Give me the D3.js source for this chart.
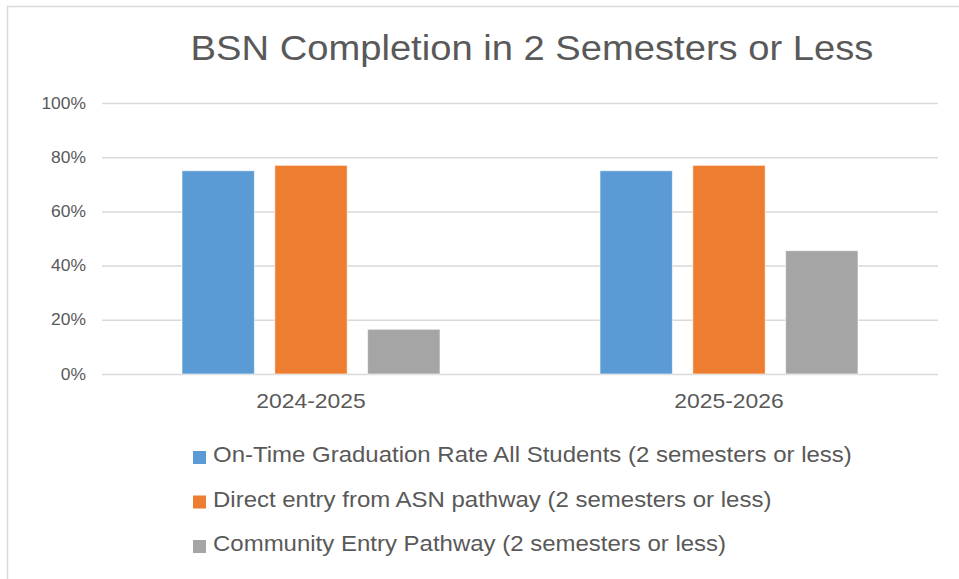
<!DOCTYPE html>
<html>
<head>
<meta charset="utf-8">
<script src="https://cdn.jsdelivr.net/npm/d3@7"></script>
<style>
  body { margin: 0; background: #fff; }
  svg { display: block; font-family: "Liberation Sans", Arial, Helvetica, sans-serif; }
</style>
</head>
<body>
<svg width="959" height="579"></svg>
<script>
// данные графика
const years = ["2024-2025", "2025-2026"];
const seriesNames = [
    "On-Time Graduation Rate All Students (2 semesters or less)",
    "Direct entry from ASN pathway (2 semesters or less)",
    "Community Entry Pathway (2 semesters or less)"
];
const onTime = [75, 75];
const directEntry = [77, 77];
const community = [16.5, 45.5];
const yTicks = [0, 20, 40, 60, 80, 100];
const colors = ["#5B9BD5", "#ED7D31", "#A5A5A5"];

const seriesValues = [onTime, directEntry, community];

// шрифт на картинке немного шире, растягиваем текст по горизонтали
const stretch = 1.09;
function widen(sel) {
    sel.each(function () {
        let len = this.getComputedTextLength();
        d3.select(this)
            .attr("textLength", len * stretch)
            .attr("lengthAdjust", "spacingAndGlyphs");
    });
}

let svg = d3.select("svg");

// рамка диаграммы
svg.append("rect")
    .attr("x", 7.5).attr("y", 6.5)
    .attr("width", 970).attr("height", 590)
    .attr("fill", "none")
    .attr("stroke", "#d9d9d9")
    .attr("stroke-width", 1.5);

const area = { left: 102, right: 938, top: 103, bottom: 374 };

let scaleX = d3.scaleBand()
    .domain(years)
    .range([area.left, area.right]);

let scaleInner = d3.scaleBand()
    .domain(d3.range(seriesNames.length))
    .range([80, scaleX.bandwidth() - 80])
    .paddingInner(0.22);

let scaleY = d3.scaleLinear()
    .domain([0, 100])
    .range([area.bottom, area.top]);

// заголовок
svg.append("text")
    .attr("x", 532)
    .attr("y", 60)
    .attr("text-anchor", "middle")
    .attr("fill", "#595959")
    .style("font-size", "35px")
    .text("BSN Completion in 2 Semesters or Less")
    .call(widen);

// сетка и подписи оси Y
let axisY = d3.axisLeft(scaleY)
    .tickValues(yTicks)
    .tickSize(-(area.right - area.left))
    .tickPadding(16)
    .tickFormat(d => d + "%");

let gY = svg.append("g")
    .attr("transform", `translate(${area.left}, 0)`)
    .call(axisY);
gY.select(".domain").remove();
gY.selectAll(".tick line").attr("stroke", "#d9d9d9").attr("stroke-width", 1.5);
gY.selectAll(".tick text")
    .attr("fill", "#595959")
    .style("font-size", "16px")
    .style("font-family", "inherit")
    .call(widen);

// столбцы
seriesValues.forEach((vals, i) => {
    svg.selectAll(null)
        .data(vals)
        .enter()
        .append("rect")
        .attr("x", (d, j) => scaleX(years[j]) + scaleInner(i))
        .attr("y", d => scaleY(d))
        .attr("width", scaleInner.bandwidth())
        .attr("height", d => scaleY(0) - scaleY(d))
        .attr("fill", colors[i])
        .attr("stroke", "#ffffff")
        .attr("stroke-opacity", 0.6)
        .attr("stroke-width", 1);
});

// подписи оси X
let axisX = d3.axisBottom(scaleX).tickSize(0).tickPadding(19);
let gX = svg.append("g")
    .attr("transform", `translate(0, ${area.bottom})`)
    .call(axisX);
gX.select(".domain").remove();
gX.selectAll(".tick text")
    .attr("fill", "#595959")
    .style("font-size", "21px")
    .style("font-family", "inherit")
    .call(widen);

// легенда
let legend = svg.append("g");
seriesNames.forEach((name, i) => {
    let base = 462 + i * 44.5;
    legend.append("rect")
        .attr("x", 193)
        .attr("y", base - 11)
        .attr("width", 13)
        .attr("height", 13)
        .attr("fill", colors[i]);
    legend.append("text")
        .attr("x", 213)
        .attr("y", base)
        .attr("fill", "#595959")
        .style("font-size", "22px")
        .text(name)
        .call(widen);
});
</script>
</body>
</html>
